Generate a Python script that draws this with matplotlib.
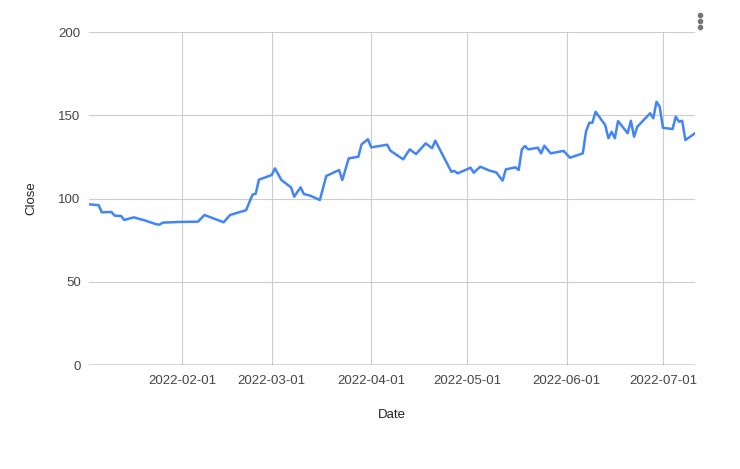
import matplotlib
matplotlib.use("Agg")
import matplotlib.pyplot as plt
import matplotlib.dates as mdates
from matplotlib.lines import Line2D
import pandas as pd

# Close price by date
dates = [
    "2022-01-03", "2022-01-06", "2022-01-07", "2022-01-10", "2022-01-11", "2022-01-13",
    "2022-01-14", "2022-01-17", "2022-01-19", "2022-01-20", "2022-01-24", "2022-01-25",
    "2022-01-26", "2022-01-31", "2022-02-06", "2022-02-08", "2022-02-14", "2022-02-16",
    "2022-02-21", "2022-02-23", "2022-02-24", "2022-02-25", "2022-03-01", "2022-03-02",
    "2022-03-04", "2022-03-07", "2022-03-08", "2022-03-10", "2022-03-11", "2022-03-13",
    "2022-03-16", "2022-03-18", "2022-03-22", "2022-03-23", "2022-03-25", "2022-03-28",
    "2022-03-29", "2022-03-31", "2022-04-01", "2022-04-06", "2022-04-07", "2022-04-11",
    "2022-04-13", "2022-04-15", "2022-04-18", "2022-04-20", "2022-04-21", "2022-04-26",
    "2022-04-27", "2022-04-28", "2022-05-02", "2022-05-03", "2022-05-05", "2022-05-08",
    "2022-05-10", "2022-05-12", "2022-05-13", "2022-05-16", "2022-05-17", "2022-05-18",
    "2022-05-19", "2022-05-20", "2022-05-23", "2022-05-24", "2022-05-25", "2022-05-27",
    "2022-05-31", "2022-06-02", "2022-06-06", "2022-06-07", "2022-06-08", "2022-06-09",
    "2022-06-10", "2022-06-13", "2022-06-14", "2022-06-15", "2022-06-16", "2022-06-17",
    "2022-06-20", "2022-06-21", "2022-06-22", "2022-06-23", "2022-06-27", "2022-06-28",
    "2022-06-29", "2022-06-30", "2022-07-01", "2022-07-04", "2022-07-05", "2022-07-06",
    "2022-07-07", "2022-07-08", "2022-07-11",
]
close = [
    96.5, 96.0, 91.7, 91.9, 89.7, 89.5,
    87.1, 88.7, 87.5, 87.1, 84.5, 84.3,
    85.5, 85.9, 86.1, 90.1, 85.7, 90.1,
    93.0, 102.3, 102.9, 111.3, 114.1, 118.1,
    111.1, 106.7, 101.1, 106.7, 102.7, 101.7,
    99.1, 113.5, 117.1, 111.1, 124.1, 125.1,
    132.5, 135.6, 130.7, 132.3, 128.7, 123.5,
    129.5, 126.7, 133.1, 130.2, 134.7, 116.1,
    116.5, 115.1, 118.5, 115.5, 119.1, 116.7,
    115.7, 110.7, 117.5, 118.7, 117.1, 129.5,
    131.5, 129.5, 130.5, 127.1, 131.7, 127.1,
    128.6, 124.5, 127.1, 140.1, 145.5, 145.5,
    152.1, 144.1, 136.2, 140.1, 136.2, 146.5,
    139.2, 146.7, 137.1, 143.1, 151.2, 148.2,
    158.1, 155.1, 142.5, 141.7, 149.1, 146.1,
    146.7, 135.1, 139.2,
]
month_ticks = ["2022-02-01", "2022-03-01", "2022-04-01", "2022-05-01", "2022-06-01", "2022-07-01"]
y_ticks = [0, 50, 100, 150, 200]

x = pd.to_datetime(dates)
xt = pd.to_datetime(month_ticks)

plt.rcParams["font.family"] = ["Liberation Sans", "DejaVu Sans"]

fig = plt.figure(figsize=(7.4, 4.69), dpi=100)
ax = fig.add_axes([89 / 740, 1 - 365 / 469, (695 - 89) / 740, (365 - 32) / 469])

ax.plot(x, close, color="#4285f4", linewidth=1.8, solid_joinstyle="round", zorder=3)

ax.set_xlim(x[0], x[-1])
ax.set_ylim(0, 200)
ax.set_yticks(y_ticks)
ax.set_xticks(xt)
ax.xaxis.set_major_formatter(mdates.DateFormatter("%Y-%m-%d"))

ax.grid(True, color="#cccccc", linewidth=0.8, zorder=0)
ax.axhline(0, color="#444444", linewidth=1.0, zorder=2)
for s in ax.spines.values():
    s.set_visible(False)
ax.tick_params(length=0, labelsize=9.5, labelcolor="#444444")
ax.tick_params(axis="y", pad=6)
ax.tick_params(axis="x", pad=7)

ax.set_xlabel("Date", fontsize=9.5, color="#222222", labelpad=16)
ax.set_ylabel("Close", fontsize=9.5, color="#222222", labelpad=15)

# three-dot menu icon in the top right corner
fig.add_artist(Line2D([700 / 740] * 3, [1 - 15 / 469, 1 - 21 / 469, 1 - 27 / 469],
                      marker="o", markersize=3.0, linestyle="none",
                      color="#757575", transform=fig.transFigure))

fig.savefig("out.png", dpi=100)
